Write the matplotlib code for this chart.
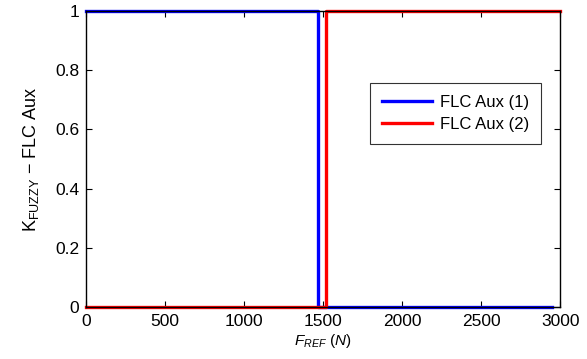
import matplotlib
matplotlib.use("Agg")
import matplotlib.pyplot as plt

plt.rcParams["font.family"] = ["Liberation Sans", "DejaVu Sans"]
plt.rcParams["mathtext.fontset"] = "custom"
plt.rcParams["mathtext.rm"] = "Liberation Sans"
plt.rcParams["mathtext.it"] = "Liberation Sans:italic"

# step data
aux1_x = [0, 1470, 1470, 2950]
aux1_y = [1, 1, 0, 0]
aux2_x = [0, 1520, 1520, 3000]
aux2_y = [0, 0, 1, 1]
xticks = [0, 500, 1000, 1500, 2000, 2500, 3000]
yticks = [0, 0.2, 0.4, 0.6, 0.8, 1]

fig = plt.figure(figsize=(5.87, 3.59), dpi=100)
ax = fig.add_axes([0.1465, 0.145, 0.808, 0.824])

ax.plot(aux1_x, aux1_y, color="#0000ff", lw=2.4, label="FLC Aux (1)", clip_on=False)
ax.plot(aux2_x, aux2_y, color="#ff0000", lw=2.4, label="FLC Aux (2)", clip_on=False)

ax.set_xlim(0, 3000)
ax.set_ylim(0, 1)
ax.set_xticks(xticks)
ax.set_yticks(yticks)
ax.set_yticklabels(["0", "0.2", "0.4", "0.6", "0.8", "1"])
ax.tick_params(direction="in", top=True, right=True, length=4, labelsize=12.5,
               colors="black", pad=5)
for s in ax.spines.values():
    s.set_linewidth(1.0)

ax.set_xlabel(r"$\it{F}_{\it{REF}}$ $\it{(N)}$", fontsize=11, labelpad=2)
ax.set_ylabel(r"K$_{\mathrm{FUZZY}}$ $-$ FLC Aux", fontsize=13, labelpad=10)

leg = ax.legend(loc="upper right", bbox_to_anchor=(0.96, 0.757), borderaxespad=0,
                fontsize=12, frameon=True, fancybox=False, edgecolor="black",
                handlelength=3.0, borderpad=0.7, labelspacing=0.45, handletextpad=0.5)
leg.get_frame().set_linewidth(0.8)

fig.savefig("out.png", dpi=100, facecolor="white")
